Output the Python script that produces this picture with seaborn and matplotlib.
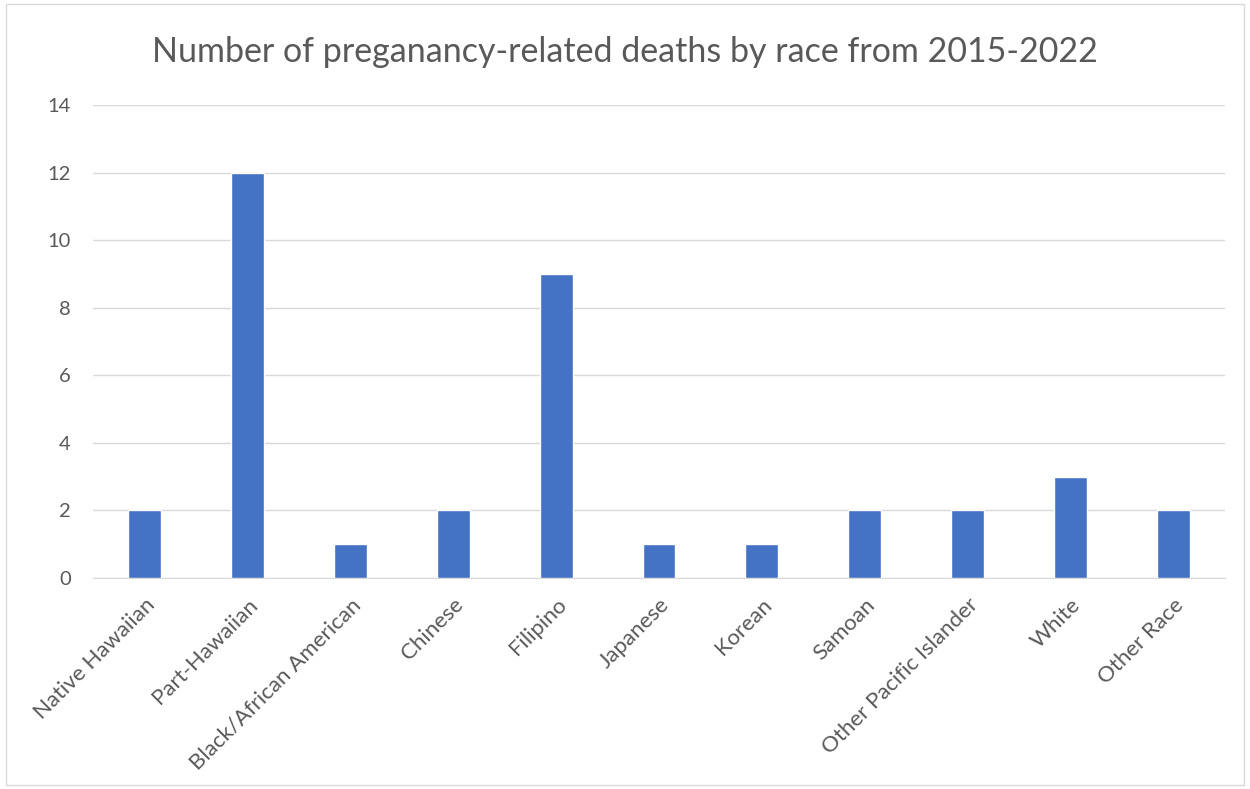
import matplotlib
matplotlib.use("Agg")
import matplotlib.pyplot as plt
import pandas as pd
import seaborn as sb

# values
races = ["Native Hawaiian", "Part-Hawaiian", "Black/African American", "Chinese",
         "Filipino", "Japanese", "Korean", "Samoan", "Other Pacific Islander",
         "White", "Other Race"]
deaths = [2, 12, 1, 2, 9, 1, 1, 2, 2, 3, 2]
yticks = [0, 2, 4, 6, 8, 10, 12, 14]

data = pd.DataFrame({"race": races, "deaths": deaths})

sb.set_style("white")
plt.rcParams["font.family"] = ["Lato", "DejaVu Sans"]

fig = plt.figure(figsize=(12.5, 7.89), dpi=100)
ax = fig.add_axes([0.0744, 0.2674, 0.9056, 0.5995])

sb.barplot(data=data, x="race", y="deaths", color="#4472C4", width=0.32,
           saturation=1, ax=ax, zorder=3)

ax.set_ylim(0, 14)
ax.set_xlim(-0.5, len(races) - 0.5)
ax.set_yticks(yticks)
ax.yaxis.grid(True, color="#D9D9D9", linewidth=1, zorder=0)
for side in ["top", "right", "left"]:
    ax.spines[side].set_visible(False)
ax.spines["bottom"].set_color("#D9D9D9")
ax.tick_params(axis="y", length=0, colors="#595959", labelsize=14.5, pad=16)
ax.tick_params(axis="x", length=0, colors="#595959", labelsize=16, pad=12)
ax.set_xticks(range(len(races)))
ax.set_xticklabels(races, rotation=45, ha="right", rotation_mode="anchor")
ax.set_xlabel("")
ax.set_ylabel("")

fig.suptitle("Number of preganancy-related deaths by race from 2015-2022",
             y=0.955, fontsize=24.5, color="#595959")

# light border round the whole chart area
fig.patches.append(plt.Rectangle((0.005, 0.005), 0.99, 0.99, transform=fig.transFigure,
                                 fill=False, edgecolor="#D9D9D9", linewidth=1))

plt.savefig("out.png")
